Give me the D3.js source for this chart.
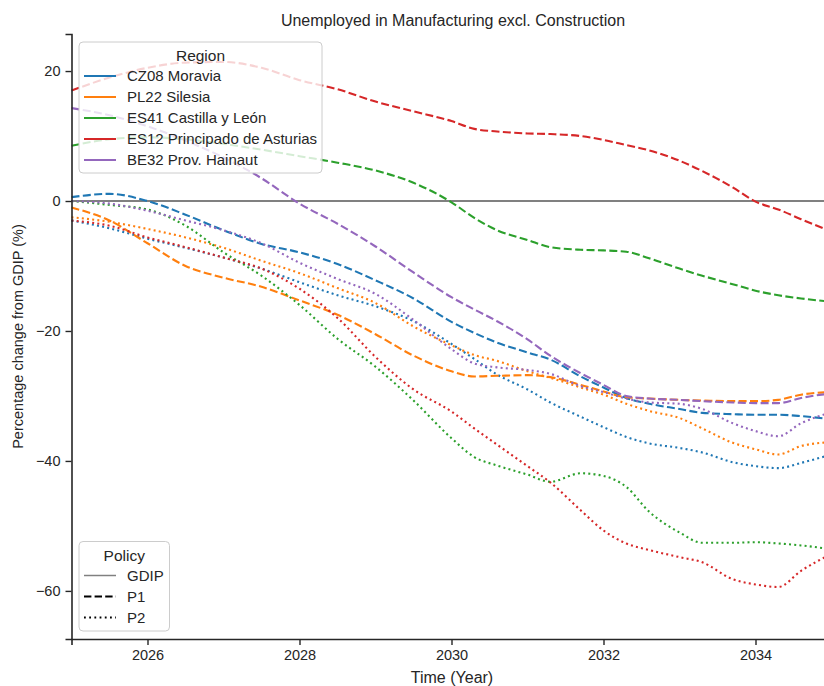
<!DOCTYPE html>
<html>
<head>
<meta charset="utf-8">
<script src="https://cdn.jsdelivr.net/npm/d3@7"></script>
<style>
  body { margin: 0; background: #fff; }
  text { font-family: "Liberation Sans", Arial, sans-serif; fill: #262626; }
</style>
</head>
<body>
<div class="chart"></div>
<script>
// time grid (years) shared by all series
const years = [2025, 2025.5, 2026, 2026.5, 2027, 2027.5, 2028, 2028.5, 2029, 2029.5,
  2030, 2030.3, 2030.6, 2031, 2031.3, 2031.7, 2032, 2032.3, 2032.6, 2033, 2033.3,
  2033.7, 2034, 2034.3, 2034.6, 2035]

const regions = ['CZ08 Moravia', 'PL22 Silesia', 'ES41 Castilla y León', 'ES12 Principado de Asturias', 'BE32 Prov. Hainaut']
const regionColors = ['#1f77b4', '#ff7f0e', '#2ca02c', '#d62728', '#9467bd']
const policies = ['GDIP', 'P1', 'P2']

// percentage change from GDIP, policy P1
const cz08P1 = [0.6, 1.1, 0.0, -2.1, -4.5, -6.6, -7.9, -9.7, -12.2, -15.0, -18.6, -20.3, -21.8, -23.3, -24.4, -27.0, -28.7, -30.3, -31.2, -32.0, -32.6, -32.8, -32.9, -32.9, -33.1, -33.6]
const pl22P1 = [-1.0, -3.0, -6.5, -10.0, -11.8, -13.2, -15.3, -17.5, -20.5, -23.8, -26.2, -27.0, -26.9, -26.8, -27.1, -28.3, -29.3, -30.2, -30.4, -30.6, -30.7, -30.8, -30.8, -30.6, -29.8, -29.4]
const es41P1 = [8.5, 9.5, 9.8, 9.5, 8.8, 7.9, 6.9, 5.9, 4.7, 2.8, -0.2, -2.6, -4.5, -6.0, -7.1, -7.5, -7.6, -7.8, -8.8, -10.4, -11.5, -12.8, -13.8, -14.5, -15.0, -15.5]
const es12P1 = [17.0, 19.0, 20.5, 21.3, 21.4, 20.5, 18.6, 17.2, 15.3, 13.8, 12.3, 11.1, 10.7, 10.4, 10.3, 10.0, 9.4, 8.6, 7.8, 6.2, 4.6, 2.1, -0.1, -1.3, -2.8, -4.7]
const be32P1 = [14.3, 13.2, 11.5, 9.3, 6.7, 3.5, -0.4, -3.5, -7.0, -11.0, -14.8, -16.7, -18.5, -21.3, -23.8, -26.5, -28.3, -30.0, -30.4, -30.6, -30.8, -31.0, -31.1, -31.1, -30.3, -29.6]

// percentage change from GDIP, policy P2
const cz08P2 = [-3.0, -4.2, -5.8, -7.2, -8.7, -10.4, -12.5, -14.5, -16.2, -18.5, -22.0, -24.3, -26.7, -29.0, -31.0, -33.2, -34.8, -36.3, -37.3, -38.0, -38.7, -40.2, -40.8, -41.1, -40.3, -39.0]
const pl22P2 = [-2.5, -3.2, -4.3, -5.6, -7.2, -9.2, -11.1, -13.4, -15.7, -19.3, -22.2, -23.7, -24.6, -26.2, -27.2, -28.7, -29.8, -31.2, -32.3, -33.4, -35.0, -37.2, -38.2, -39.0, -37.7, -37.1]
const es41P2 = [0.0, -0.6, -1.3, -3.8, -7.9, -11.5, -16.0, -21.2, -25.5, -30.7, -36.5, -39.4, -40.7, -42.1, -43.2, -41.9, -42.3, -44.0, -47.8, -51.0, -52.6, -52.6, -52.5, -52.7, -53.0, -53.6]
const es12P2 = [-3.0, -3.8, -5.6, -7.1, -8.7, -10.4, -13.5, -18.0, -24.0, -29.0, -32.4, -35.0, -37.5, -40.8, -43.3, -47.6, -50.7, -52.7, -53.7, -54.8, -55.6, -58.2, -59.0, -59.4, -56.9, -54.3]
const be32P2 = [0.0, -0.4, -1.5, -3.0, -4.5, -6.5, -9.5, -12.0, -14.3, -18.3, -22.8, -25.0, -25.6, -26.0, -26.6, -28.5, -29.4, -30.4, -31.0, -31.2, -32.0, -34.2, -35.4, -36.2, -34.2, -32.5]

const p1Values = [cz08P1, pl22P1, es41P1, es12P1, be32P1]
const p2Values = [cz08P2, pl22P2, es41P2, es12P2, be32P2]

const yTicks = [20, 0, -20, -40, -60]
const xTicks = [2026, 2028, 2030, 2032, 2034]

const width = 824, height = 686
const margin = {left: 71.5, top: 34, bottom: 47}

const svg = d3.select('.chart')
  .append('svg')
  .attr('width', width)
  .attr('height', height)

const x = d3.scaleLinear().domain([2025, 2035]).range([margin.left, margin.left + 760])
const y = d3.scaleLinear().domain([-67.4, 25.7]).range([height - margin.bottom, margin.top])

const dashFor = {GDIP: null, P1: '8,3.4', P2: '2,3.2'}

// GDIP baseline
svg.append('line')
  .attr('x1', x(2025)).attr('x2', x(2035))
  .attr('y1', y(0)).attr('y2', y(0))
  .attr('stroke', '#808080')
  .attr('stroke-width', 2)

const line = d3.line()
  .x((d, i) => x(years[i]))
  .y(d => y(d))
  .curve(d3.curveMonotoneX)

regions.forEach((r, k) => {
  [['P1', p1Values[k]], ['P2', p2Values[k]]].forEach(([pol, vals]) => {
    svg.append('path')
      .attr('d', line(vals))
      .attr('fill', 'none')
      .attr('stroke', regionColors[k])
      .attr('stroke-width', 2.1)
      .attr('stroke-dasharray', dashFor[pol])
  })
})

// axes
const xAxis = svg.append('g')
  .attr('transform', `translate(0,${height - margin.bottom})`)
  .call(d3.axisBottom(x).tickValues(xTicks).tickFormat(d3.format('d')).tickSizeOuter(0).tickSize(6).tickPadding(5))
const yAxis = svg.append('g')
  .attr('transform', `translate(${margin.left},0)`)
  .call(d3.axisLeft(y).tickValues(yTicks).tickFormat(d => d < 0 ? '\u2212' + Math.abs(d) : d).tickSizeOuter(0).tickSize(6).tickPadding(5))

;[xAxis, yAxis].forEach(g => {
  g.select('.domain').attr('stroke', '#262626').attr('stroke-width', 1.6)
  g.selectAll('.tick line').attr('stroke', '#262626').attr('stroke-width', 1.4)
  g.selectAll('.tick text').attr('font-size', 14.5).attr('fill', '#262626')
    .style('font-family', '"Liberation Sans", Arial, sans-serif')
})

// titles
svg.append('text')
  .attr('x', 453).attr('y', 26)
  .attr('text-anchor', 'middle')
  .attr('font-size', 16)
  .text('Unemployed in Manufacturing excl. Construction')

svg.append('text')
  .attr('x', 452).attr('y', 683)
  .attr('text-anchor', 'middle')
  .attr('font-size', 16)
  .text('Time (Year)')

svg.append('text')
  .attr('transform', `translate(23,${(margin.top + height - margin.bottom) / 2}) rotate(-90)`)
  .attr('text-anchor', 'middle')
  .attr('font-size', 14.5)
  .text('Percentage change from GDIP (%)')

// legends
function drawLegend(x0, y0, w, h, title, items) {
  const g = svg.append('g')
  g.append('rect')
    .attr('x', x0).attr('y', y0).attr('width', w).attr('height', h)
    .attr('rx', 4)
    .attr('fill', 'white').attr('fill-opacity', 0.8)
    .attr('stroke', '#cccccc').attr('stroke-width', 1)
  g.append('text')
    .attr('x', x0 + w / 2).attr('y', y0 + 19)
    .attr('text-anchor', 'middle')
    .attr('font-size', 15.5)
    .text(title)
  items.forEach((it, i) => {
    const cy = y0 + 34 + i * 21
    g.append('line')
      .attr('x1', x0 + 5).attr('x2', x0 + 37)
      .attr('y1', cy).attr('y2', cy)
      .attr('stroke', it.color)
      .attr('stroke-width', it.width)
      .attr('stroke-dasharray', it.dash)
    g.append('text')
      .attr('x', x0 + 48).attr('y', cy + 5)
      .attr('font-size', 15)
      .text(it.label)
  })
}

drawLegend(79, 42, 243, 131, 'Region',
  regions.map((r, k) => ({label: r, color: regionColors[k], width: 2, dash: null})))

drawLegend(79, 541.5, 90.5, 89.5, 'Policy', [
  {label: policies[0], color: '#808080', width: 1.5, dash: null},
  {label: policies[1], color: '#000', width: 2, dash: '7.4,3.2'},
  {label: policies[2], color: '#000', width: 2, dash: '1.8,3.4'}
])
</script>
</body>
</html>
